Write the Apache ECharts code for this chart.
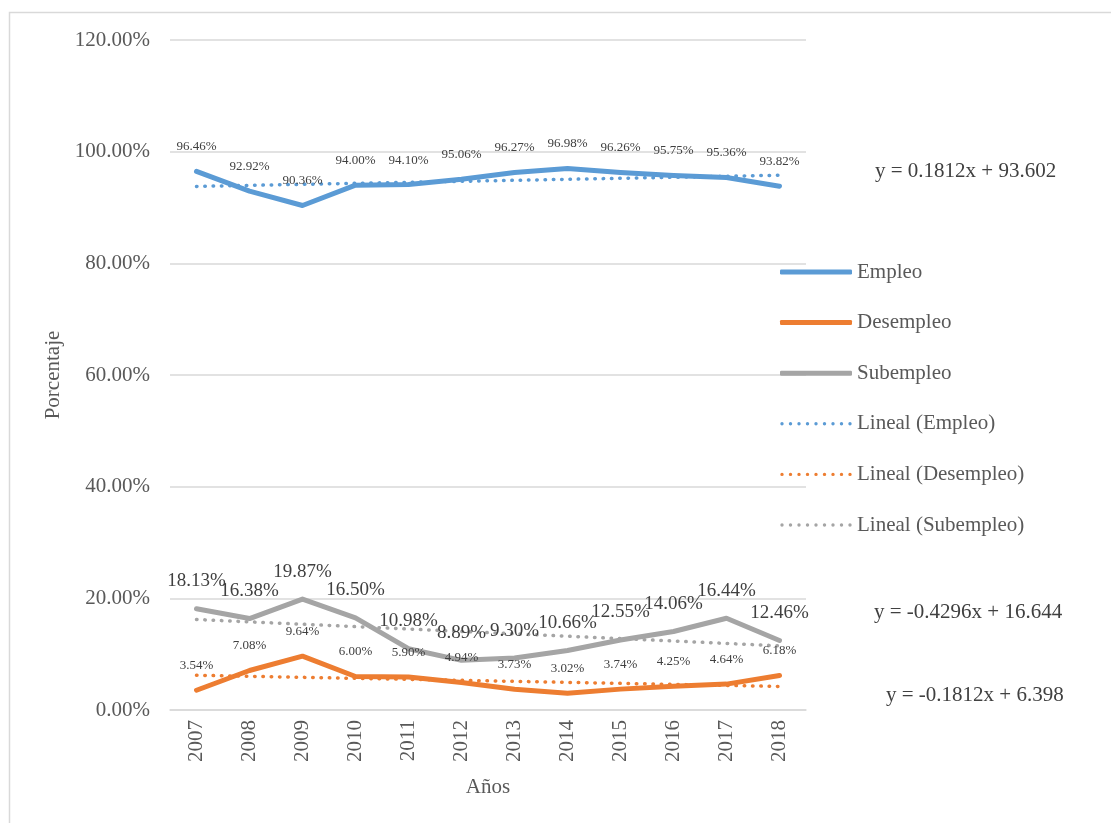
<!DOCTYPE html>
<html>
<head>
<meta charset="utf-8">
<script src="https://cdn.jsdelivr.net/npm/echarts@6/dist/echarts.min.js"></script>
<style>
html,body{margin:0;padding:0;background:#fff;}
#c{width:1111px;height:823px;}
</style>
</head>
<body>
<div id="c"></div>
<script>
var years = ['2007','2008','2009','2010','2011','2012','2013','2014','2015','2016','2017','2018'];
var empleo = [96.46, 92.92, 90.36, 94.00, 94.10, 95.06, 96.27, 96.98, 96.26, 95.75, 95.36, 93.82];
var desempleo = [3.54, 7.08, 9.64, 6.00, 5.90, 4.94, 3.73, 3.02, 3.74, 4.25, 4.64, 6.18];
var subempleo = [18.13, 16.38, 19.87, 16.50, 10.98, 8.89, 9.30, 10.66, 12.55, 14.06, 16.44, 12.46];
var linealEmpleo = [93.78, 93.96, 94.15, 94.33, 94.51, 94.69, 94.87, 95.05, 95.23, 95.41, 95.60, 95.78];
var linealDesempleo = [6.22, 6.04, 5.85, 5.67, 5.49, 5.31, 5.13, 4.95, 4.77, 4.59, 4.40, 4.22];
var linealSubempleo = [16.21, 15.78, 15.36, 14.93, 14.50, 14.07, 13.64, 13.21, 12.78, 12.35, 11.92, 11.49];
var yTicks = [0, 20, 40, 60, 80, 100, 120];
var equations = ['y = 0.1812x + 93.602', 'y = -0.4296x + 16.644', 'y = -0.1812x + 6.398'];

var FONT = '"Liberation Serif", "Times New Roman", serif';
var pct = function (v) { return Number(v).toFixed(2) + '%'; };

// legend icons: a solid rounded bar and a row of dots (bbox fixed by degenerate corner points)
var SOLID_ICON = 'roundRect';
var dotPath = 'path://M0 0L0.001 0M72 5L72.001 5';
for (var i = 0; i < 9; i++) {
  var cx = 2 + i * 8.5;
  dotPath += 'M' + (cx - 1.7) + ' 2.5a1.7 1.7 0 1 0 3.4 0a1.7 1.7 0 1 0 -3.4 0Z';
}

var chart = echarts.init(document.getElementById('c'));

function mainSeries(name, data, color, fs, dist) {
  return {
    name: name, type: 'line', data: data, symbol: 'circle', symbolSize: 0.01, showSymbol: true,
    lineStyle: { color: color, width: 5, cap: 'round', join: 'round' },
    itemStyle: { color: color },
    label: { show: true, position: 'top', distance: dist, formatter: function (p) { return pct(p.value); },
      fontFamily: FONT, fontSize: fs, color: '#404040' },
    emphasis: { disabled: true },
    z: 3
  };
}
function trendSeries(name, data, color) {
  return {
    name: name, type: 'line', data: data, symbol: 'none', silent: true,
    lineStyle: { color: color, width: 3.5, type: [0.5, 7.8], cap: 'round' },
    itemStyle: { color: color },
    z: 2
  };
}

chart.setOption({
  animation: false,
  backgroundColor: '#fff',
  grid: { left: 170, right: 305, top: 40, bottom: 113, containLabel: false },
  legend: {
    orient: 'vertical', left: 780, top: 261, padding: 0,
    itemWidth: 72, itemHeight: 5, itemGap: 28.6,
    textStyle: { fontFamily: FONT, fontSize: 21, color: '#595959', lineHeight: 22 },
    data: [
      { name: 'Empleo', icon: SOLID_ICON },
      { name: 'Desempleo', icon: SOLID_ICON },
      { name: 'Subempleo', icon: SOLID_ICON },
      { name: 'Lineal (Empleo)', icon: dotPath },
      { name: 'Lineal (Desempleo)', icon: dotPath },
      { name: 'Lineal (Subempleo)', icon: dotPath }
    ]
  },
  xAxis: {
    type: 'category', data: years, boundaryGap: true,
    name: 'Años', nameLocation: 'middle', nameGap: 67,
    nameTextStyle: { fontFamily: FONT, fontSize: 21, color: '#595959' },
    axisLine: { show: true, lineStyle: { color: '#d9d9d9', width: 1.5 } },
    axisTick: { show: false },
    axisLabel: { rotate: 90, margin: 10, fontFamily: FONT, fontSize: 21, color: '#595959' }
  },
  yAxis: {
    type: 'value', min: 0, max: 120, interval: 20,
    name: 'Porcentaje', nameLocation: 'middle', nameGap: 100, nameRotate: 90,
    nameTextStyle: { fontFamily: FONT, fontSize: 21, color: '#595959' },
    axisLine: { show: false }, axisTick: { show: false },
    axisLabel: { margin: 20, fontFamily: FONT, fontSize: 21, color: '#595959',
      formatter: function (v) { return yTicks.indexOf(v) >= 0 ? pct(v) : ''; } },
    splitLine: { lineStyle: { color: '#d9d9d9', width: 1.5 } }
  },
  graphic: [
    { type: 'rect', left: 7, top: 10, shape: { width: 1200, height: 900 }, style: { fill: 'none', stroke: '#d9d9d9', lineWidth: 1.5 }, silent: true, z: -1 },
    { type: 'text', left: 875, top: 161, style: { text: equations[0], font: '21px ' + FONT, fill: '#404040' } },
    { type: 'text', left: 874, top: 602, style: { text: equations[1], font: '21px ' + FONT, fill: '#404040' } },
    { type: 'text', left: 886, top: 685, style: { text: equations[2], font: '21px ' + FONT, fill: '#404040' } }
  ],
  series: [
    mainSeries('Empleo', empleo, '#5B9BD5', 13, 18),
    mainSeries('Desempleo', desempleo, '#ED7D31', 13, 18),
    mainSeries('Subempleo', subempleo, '#A5A5A5', 19, 18),
    trendSeries('Lineal (Empleo)', linealEmpleo, '#5B9BD5'),
    trendSeries('Lineal (Desempleo)', linealDesempleo, '#ED7D31'),
    trendSeries('Lineal (Subempleo)', linealSubempleo, '#A5A5A5')
  ]
});
</script>
</body>
</html>
